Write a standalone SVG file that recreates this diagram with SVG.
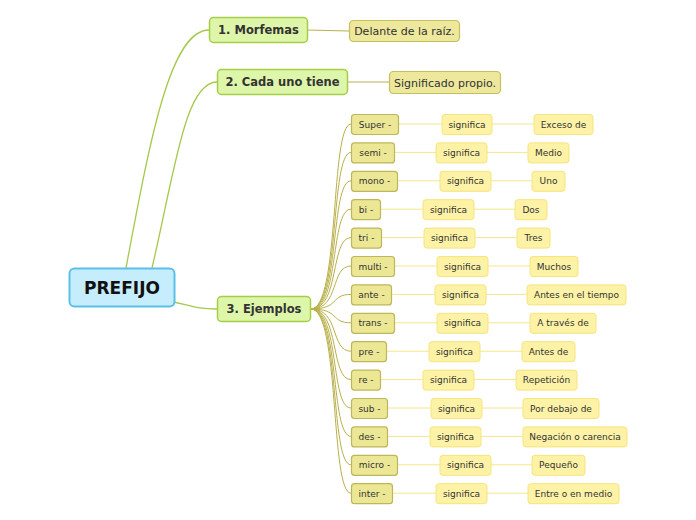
<svg xmlns="http://www.w3.org/2000/svg" width="696" height="520" viewBox="0 0 696 520">
<style>
text{font-family:"DejaVu Sans","Liberation Sans",sans-serif;fill:#333;text-anchor:middle}
.root rect{fill:#c6edfc;stroke:#5cbfea;stroke-width:2}
.root text{font-size:17px;font-weight:bold;fill:#111}
.l1 rect{fill:#def6aa;stroke:#a5cd48;stroke-width:1.5}
.l1 text{font-size:11.5px;font-weight:bold}
.l2 rect{fill:#ede89c;stroke:#c6bf5c;stroke-width:1.2}
.l2 text{font-size:11px}
.pf rect{fill:#ece795;stroke:#beb65a;stroke-width:1.2}
.pf text,.sg text,.mn text{font-size:9px}
.sg rect,.mn rect{fill:#fdf2a6;stroke:#f6e47c;stroke-width:1}
.c1{fill:none;stroke:#a5c94a;stroke-width:1.3}
.c2{fill:none;stroke:#b8b04e;stroke-width:1}
.c3{fill:none;stroke:#b9b04a;stroke-width:1}
.c4{fill:none;stroke:#f4e78a;stroke-width:1}
</style>
<g id="connectors">
<path class="c1" d="M126,268 C150,140 170,30 209,30"/>
<path class="c1" d="M152,268 C175,170 185,82 217,82"/>
<path class="c1" d="M174,302 C195,307 200,309 217,309"/>
<path class="c2" d="M307,30 L349,31"/>
<path class="c2" d="M347,82 L389,82"/>
<path class="c3" d="M311,309 C340,309 330,124 351,124"/>
<path class="c3" d="M311,309 C340,309 330,152.4 351,152.4"/>
<path class="c3" d="M311,309 C340,309 330,180.8 351,180.8"/>
<path class="c3" d="M311,309 C340,309 330,209.2 351,209.2"/>
<path class="c3" d="M311,309 C340,309 330,237.6 351,237.6"/>
<path class="c3" d="M311,309 C340,309 330,266 351,266"/>
<path class="c3" d="M311,309 C340,309 330,294.4 351,294.4"/>
<path class="c3" d="M311,309 C340,309 330,322.8 351,322.8"/>
<path class="c3" d="M311,309 C340,309 330,351.2 351,351.2"/>
<path class="c3" d="M311,309 C340,309 330,379.6 351,379.6"/>
<path class="c3" d="M311,309 C340,309 330,408 351,408"/>
<path class="c3" d="M311,309 C340,309 330,436.4 351,436.4"/>
<path class="c3" d="M311,309 C340,309 330,464.8 351,464.8"/>
<path class="c3" d="M311,309 C340,309 330,493.2 351,493.2"/>
<path class="c4" d="M398,124H442M492,124H534"/>
<path class="c4" d="M394,152.4H436M487,152.4H528"/>
<path class="c4" d="M398,180.8H440M491,180.8H532"/>
<path class="c4" d="M381,209.2H423M474,209.2H515"/>
<path class="c4" d="M382,237.6H424M475,237.6H517"/>
<path class="c4" d="M395,266H437M488,266H530"/>
<path class="c4" d="M392,294.4H435M486,294.4H527"/>
<path class="c4" d="M395,322.8H437M488,322.8H530"/>
<path class="c4" d="M387,351.2H429M480,351.2H522"/>
<path class="c4" d="M381,379.6H423M474,379.6H516"/>
<path class="c4" d="M388,408H431M482,408H523"/>
<path class="c4" d="M388,436.4H430M481,436.4H523"/>
<path class="c4" d="M398,464.8H440M491,464.8H532"/>
<path class="c4" d="M393,493.2H436M487,493.2H528"/>
</g>
<g id="root" class="root"><rect x="69.5" y="268.5" width="105" height="38" rx="5"/><text x="122" y="294">PREFIJO</text></g>
<g id="n1" class="l1"><rect x="209.5" y="17.5" width="98" height="25" rx="4"/><text x="258.5" y="34">1. Morfemas</text></g>
<g id="n2" class="l1"><rect x="217.5" y="69.5" width="130" height="25" rx="4"/><text x="282.5" y="86">2. Cada uno tiene</text></g>
<g id="n3" class="l1"><rect x="217.5" y="296.5" width="93" height="25" rx="4"/><text x="264" y="313">3. Ejemplos</text></g>
<g id="n1a" class="l2"><rect x="349.5" y="20.5" width="110" height="21" rx="4"/><text x="404.5" y="35">Delante de la raíz.</text></g>
<g id="n2a" class="l2"><rect x="389.5" y="71.5" width="111" height="22" rx="4"/><text x="445" y="86.5">Significado propio.</text></g>

<g id="p1" class="pf"><rect x="351.5" y="114.5" width="47" height="20" rx="3"/><text x="375" y="127.5">Super -</text></g>
<g id="s1" class="sg"><rect x="442" y="114.5" width="50" height="20" rx="3"/><text x="467" y="127.5">significa</text></g>
<g id="m1" class="mn"><rect x="534" y="114.5" width="59" height="20" rx="3"/><text x="563.5" y="127.5">Exceso de</text></g>

<g id="p2" class="pf"><rect x="351.5" y="142.9" width="43" height="20" rx="3"/><text x="373" y="155.9">semi -</text></g>
<g id="s2" class="sg"><rect x="436" y="142.9" width="51" height="20" rx="3"/><text x="461.5" y="155.9">significa</text></g>
<g id="m2" class="mn"><rect x="528" y="142.9" width="41" height="20" rx="3"/><text x="548.5" y="155.9">Medio</text></g>

<g id="p3" class="pf"><rect x="351.5" y="171.3" width="46" height="20" rx="3"/><text x="374.5" y="184.3">mono -</text></g>
<g id="s3" class="sg"><rect x="440" y="171.3" width="51" height="20" rx="3"/><text x="465.5" y="184.3">significa</text></g>
<g id="m3" class="mn"><rect x="532" y="171.3" width="33" height="20" rx="3"/><text x="548.5" y="184.3">Uno</text></g>

<g id="p4" class="pf"><rect x="351.5" y="199.7" width="29" height="20" rx="3"/><text x="366" y="212.7">bi -</text></g>
<g id="s4" class="sg"><rect x="423" y="199.7" width="51" height="20" rx="3"/><text x="448.5" y="212.7">significa</text></g>
<g id="m4" class="mn"><rect x="515" y="199.7" width="32" height="20" rx="3"/><text x="531" y="212.7">Dos</text></g>

<g id="p5" class="pf"><rect x="351.5" y="228.1" width="30" height="20" rx="3"/><text x="366.5" y="241.1">tri -</text></g>
<g id="s5" class="sg"><rect x="424" y="228.1" width="51" height="20" rx="3"/><text x="449.5" y="241.1">significa</text></g>
<g id="m5" class="mn"><rect x="517" y="228.1" width="33" height="20" rx="3"/><text x="533.5" y="241.1">Tres</text></g>

<g id="p6" class="pf"><rect x="351.5" y="256.5" width="43" height="20" rx="3"/><text x="373" y="269.5">multi -</text></g>
<g id="s6" class="sg"><rect x="437" y="256.5" width="51" height="20" rx="3"/><text x="462.5" y="269.5">significa</text></g>
<g id="m6" class="mn"><rect x="530" y="256.5" width="48" height="20" rx="3"/><text x="554" y="269.5">Muchos</text></g>

<g id="p7" class="pf"><rect x="351.5" y="284.9" width="40" height="20" rx="3"/><text x="371.5" y="297.9">ante -</text></g>
<g id="s7" class="sg"><rect x="435" y="284.9" width="51" height="20" rx="3"/><text x="460.5" y="297.9">significa</text></g>
<g id="m7" class="mn"><rect x="527" y="284.9" width="99" height="20" rx="3"/><text x="576.5" y="297.9">Antes en el tiempo</text></g>

<g id="p8" class="pf"><rect x="351.5" y="313.3" width="43" height="20" rx="3"/><text x="373" y="326.3">trans -</text></g>
<g id="s8" class="sg"><rect x="437" y="313.3" width="51" height="20" rx="3"/><text x="462.5" y="326.3">significa</text></g>
<g id="m8" class="mn"><rect x="530" y="313.3" width="66" height="20" rx="3"/><text x="563" y="326.3">A través de</text></g>

<g id="p9" class="pf"><rect x="351.5" y="341.7" width="35" height="20" rx="3"/><text x="369" y="354.7">pre -</text></g>
<g id="s9" class="sg"><rect x="429" y="341.7" width="51" height="20" rx="3"/><text x="454.5" y="354.7">significa</text></g>
<g id="m9" class="mn"><rect x="522" y="341.7" width="53" height="20" rx="3"/><text x="548.5" y="354.7">Antes de</text></g>

<g id="p10" class="pf"><rect x="351.5" y="370.1" width="29" height="20" rx="3"/><text x="366" y="383.1">re -</text></g>
<g id="s10" class="sg"><rect x="423" y="370.1" width="51" height="20" rx="3"/><text x="448.5" y="383.1">significa</text></g>
<g id="m10" class="mn"><rect x="516" y="370.1" width="61" height="20" rx="3"/><text x="546.5" y="383.1">Repetición</text></g>

<g id="p11" class="pf"><rect x="351.5" y="398.5" width="36" height="20" rx="3"/><text x="369.5" y="411.5">sub -</text></g>
<g id="s11" class="sg"><rect x="431" y="398.5" width="51" height="20" rx="3"/><text x="456.5" y="411.5">significa</text></g>
<g id="m11" class="mn"><rect x="523" y="398.5" width="76" height="20" rx="3"/><text x="561" y="411.5">Por debajo de</text></g>

<g id="p12" class="pf"><rect x="351.5" y="426.9" width="36" height="20" rx="3"/><text x="369.5" y="439.9">des -</text></g>
<g id="s12" class="sg"><rect x="430" y="426.9" width="51" height="20" rx="3"/><text x="455.5" y="439.9">significa</text></g>
<g id="m12" class="mn"><rect x="523" y="426.9" width="104" height="20" rx="3"/><text x="575" y="439.9">Negación o carencia</text></g>

<g id="p13" class="pf"><rect x="351.5" y="455.3" width="46" height="20" rx="3"/><text x="374.5" y="468.3">micro -</text></g>
<g id="s13" class="sg"><rect x="440" y="455.3" width="51" height="20" rx="3"/><text x="465.5" y="468.3">significa</text></g>
<g id="m13" class="mn"><rect x="532" y="455.3" width="53" height="20" rx="3"/><text x="558.5" y="468.3">Pequeño</text></g>

<g id="p14" class="pf"><rect x="351.5" y="483.7" width="41" height="20" rx="3"/><text x="372" y="496.7">inter -</text></g>
<g id="s14" class="sg"><rect x="436" y="483.7" width="51" height="20" rx="3"/><text x="461.5" y="496.7">significa</text></g>
<g id="m14" class="mn"><rect x="528" y="483.7" width="91" height="20" rx="3"/><text x="573.5" y="496.7">Entre o en medio</text></g>
</svg>
